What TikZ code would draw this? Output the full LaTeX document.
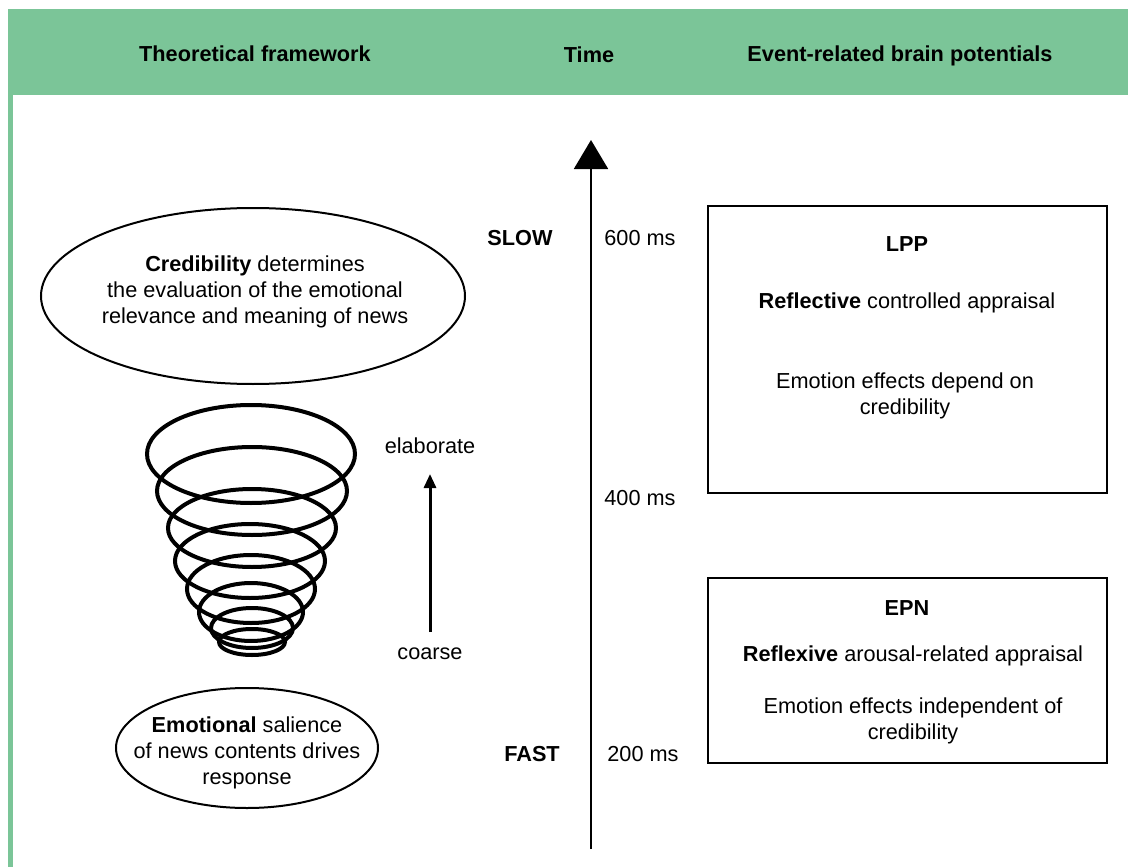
\documentclass[tikz,border=0pt]{standalone}
\usepackage{fontspec}
\setmainfont{Liberation Sans}
\usetikzlibrary{positioning, shapes.geometric, arrows.meta}

\begin{document}
\begin{tikzpicture}[
    x=1pt, y=-1pt,
    txt/.style={font=\fontsize{21.7}{26}\selectfont, align=center, inner sep=0pt},
    head/.style={font=\bfseries\fontsize{21.7}{26}\selectfont, inner sep=0pt, anchor=base},
    oval/.style={draw, ellipse, line width=2pt, inner sep=0pt},
    evbox/.style={draw, rectangle, line width=2pt, inner sep=0pt},
    ring/.style={line width=4pt}
]

    % Define colors
    \definecolor{headgreen}{RGB}{123, 197, 152}
    \useasboundingbox (0,0) rectangle (1128,867);

    % Header band and left stripe
    \fill[headgreen] (8,9) rectangle (1128,95);
    \fill[headgreen] (8,95) rectangle (13,867);
    \node[head] (hframe) at (255,62) {Theoretical framework};
    \node[head] (htime) at (589,63) {Time};
    \node[head] (herp) at (900,62) {Event-related brain potentials};

    % Time axis
    \coordinate (tbot) at (591,849);
    \coordinate (ttop) at (591,140);
    \draw[line width=2pt, -{Triangle[width=34pt, length=29pt]}] (tbot) -- (ttop);
    \node[head] (slow) at (520,245) {SLOW};
    \node[txt, anchor=base] (t600) at (640,245) {600 ms};
    \node[txt, anchor=base] (t400) at (640,505) {400 ms};
    \node[head] (fast) at (532,761) {FAST};
    \node[txt, anchor=base] (t200) at (643,761) {200 ms};

    % Theoretical framework
    \node[oval, minimum width=424pt, minimum height=176pt] (cred) at (253,296) {};
    \node[txt] (credtxt) at (255,292)
        {\textbf{Credibility} determines\\the evaluation of the emotional\\relevance and meaning of news};
    \foreach \cx/\cy/\rx/\ry in {251/454/104/49, 252/491/95/44, 252/528/84/39, 250/561/75/37,
                                 251/589/64/34, 251/612/52/29, 252/628/41/20, 252/642/33/13}
        \draw[ring] (\cx,\cy) ellipse [x radius=\rx, y radius=\ry];
    \node[oval, minimum width=262pt, minimum height=120pt] (emo) at (247,748) {};
    \node[txt] (emotxt) at ([yshift=-5pt]emo.center)
        {\textbf{Emotional} salience\\of news contents drives\\response};

    % coarse -> elaborate
    \node[txt] (elab) at (430,446) {elaborate};
    \node[txt] (coarse) at (430,654) {coarse};
    \draw[line width=3pt, -{Triangle[width=12pt, length=14pt]}, shorten <=22pt, shorten >=28pt] (coarse.center) -- (elab.center);

    % Event-related brain potentials
    \node[evbox, minimum width=399pt, minimum height=287pt] (lppbox) at (907.5,349.5) {};
    \node[head] (lpp) at (907,251) {LPP};
    \node[txt, anchor=base] (lppa) at (907,308) {\textbf{Reflective} controlled appraisal};
    \node[txt] (lppb) at (905,396) {Emotion effects depend on\\credibility};

    \node[evbox, minimum width=399pt, minimum height=185pt] (epnbox) at (907.5,670.5) {};
    \node[head] (epn) at (907,615) {EPN};
    \node[txt, anchor=base] (epna) at (913,661) {\textbf{Reflexive} arousal-related appraisal};
    \node[txt] (epnb) at (913,721) {Emotion effects independent of\\credibility};

\end{tikzpicture}
\end{document}
